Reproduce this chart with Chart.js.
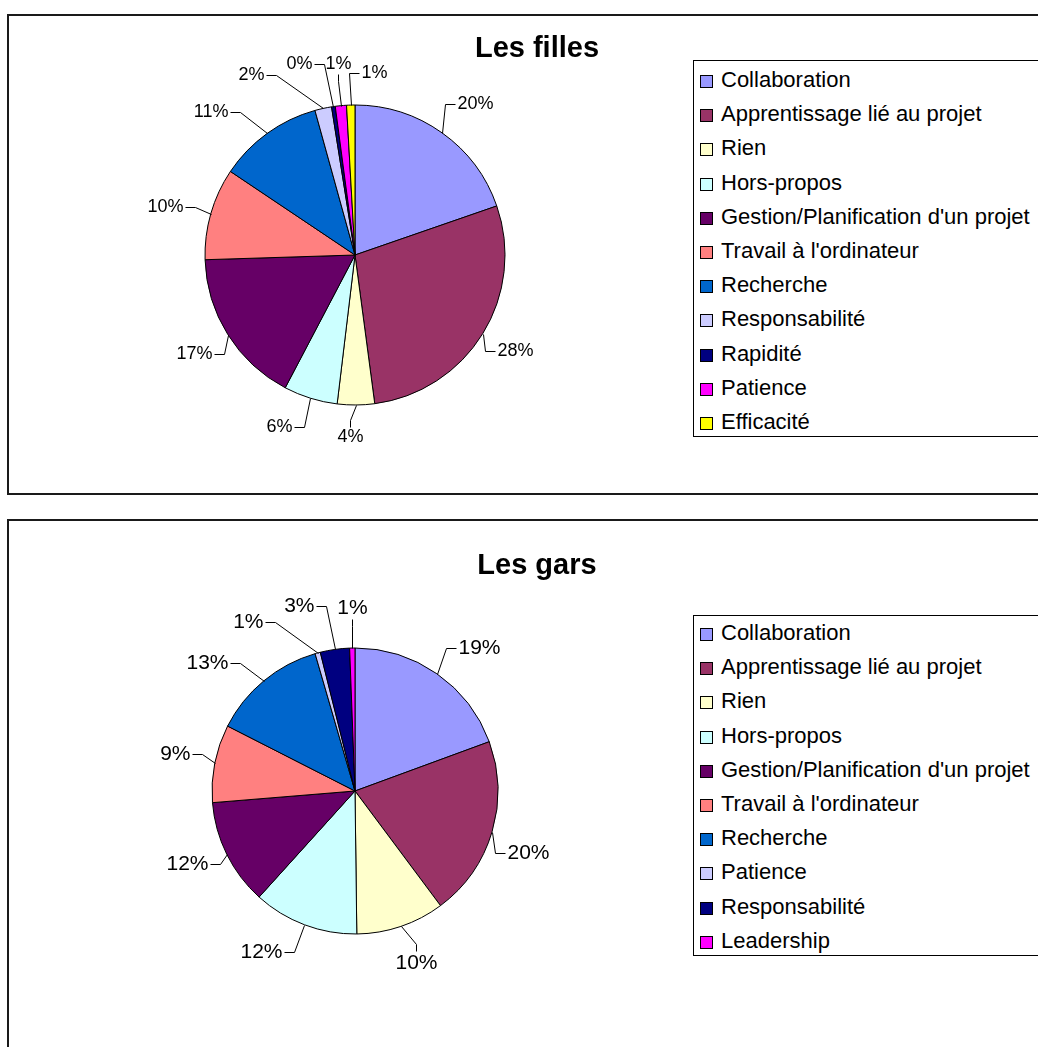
<!DOCTYPE html>
<html lang="fr">
<head>
<meta charset="utf-8">
<title>Réponses selon le genre</title>
<script src="https://cdn.jsdelivr.net/npm/chart.js@4.4.1/dist/chart.umd.min.js"></script>
<style>
    body { margin: 0; background: #fff; width: 1038px; height: 1047px; overflow: hidden; position: relative;
           font-family: Arial, "Liberation Sans", sans-serif; }
    .caption { position: absolute; left: 0; top: -22px; width: 960px; text-align: center; white-space: nowrap;
               font: bold 20px/20px "Liberation Serif", "Times New Roman", serif; }
    .frame { position: absolute; left: 7px; width: 1060px; border: 2px solid #1a1a1a; background: #fff; }
    #frameFilles { top: 14px; height: 477px; }
    #frameGars { top: 519px; height: 560px; }
    .frame canvas { position: absolute; left: 0; top: 0; }
    .title { position: absolute; left: 0; width: 1056px; text-align: center; line-height: 34px;
             font: bold 29px Arial, "Liberation Sans", sans-serif; color: #000; }
    .legend { position: absolute; left: 684px; width: 420px; border: 1px solid #000; background: #fff;
              box-sizing: border-box; }
    .legend div { height: 34.2px; line-height: 34.2px; font-size: 22px; color: #000; white-space: nowrap; }
    .legend span { display: inline-block; width: 11px; height: 11px; border: 1px solid #000;
                   margin: 0 8px 0 6px; vertical-align: -1px; }
</style>
</head>
<body>
<div class="caption">Figure 5. Réponses de tous les participants à la question 3 selon le genre</div>

<div class="frame" id="frameFilles">
    <canvas id="pieFilles" width="680" height="477"></canvas>
    <div class="title" style="top:15px">Les filles</div>
    <div class="legend" id="legendFilles" style="top:44px; height:377px; padding-top:2px"></div>
</div>

<div class="frame" id="frameGars">
    <canvas id="pieGars" width="680" height="526"></canvas>
    <div class="title" style="top:27px">Les gars</div>
    <div class="legend" id="legendGars" style="top:94px; height:341px; padding-top:0"></div>
</div>

<script>
// --- DATA (percent of answers) ---
const categoriesFilles = ['Collaboration', 'Apprentissage lié au projet', 'Rien', 'Hors-propos',
    'Gestion/Planification d\'un projet', 'Travail à l\'ordinateur', 'Recherche', 'Responsabilité',
    'Rapidité', 'Patience', 'Efficacité'];
const valuesFilles = [19.7, 28.2, 4.0, 5.8, 16.8, 9.9, 11.3, 1.8, 0.4, 1.2, 0.9];

const categoriesGars = ['Collaboration', 'Apprentissage lié au projet', 'Rien', 'Hors-propos',
    'Gestion/Planification d\'un projet', 'Travail à l\'ordinateur', 'Recherche', 'Patience',
    'Responsabilité', 'Leadership'];
const valuesGars = [19.4, 20.4, 10.0, 11.9, 12.0, 8.8, 13.0, 0.6, 3.3, 0.6];

// --- COLOURS ---
const colorsFilles = ['#9999FF', '#993366', '#FFFFCC', '#CCFFFF', '#660066', '#FF8080', '#0066CC',
    '#CCCCFF', '#000080', '#FF00FF', '#FFFF00'];
const colorsGars = ['#9999FF', '#993366', '#FFFFCC', '#CCFFFF', '#660066', '#FF8080', '#0066CC',
    '#CCCCFF', '#000080', '#FF00FF'];

// label anchor offsets from the pie centre: [dx, dy, side]
// side: 'l' text right of anchor, 'r' text left of anchor, 't' text above, 'b' text below
const anchorsFilles = [[102, -151, 'l'], [142, 96, 'l'], [-5, 173, 'b'], [-63, 172, 'r'], [-143, 99, 'r'],
    [-172, -48, 'r'], [-127, -143, 'r'], [-91, -180, 'r'], [-43, -191, 'r'], [-17, -182, 't'], [6, -182, 'l']];
const anchorsGars = [[103, -143, 'l'], [152, 62, 'l'], [61, 161, 'b'], [-73, 161, 'r'], [-147, 73, 'r'],
    [-165, -37, 'r'], [-127, -128, 'r'], [-92, -169, 'r'], [-41, -185, 'r'], [-3, -173, 't']];

// --- PERCENT LABELS WITH LEADER LINES ---
const sliceLabels = {
    id: 'sliceLabels',
    afterDatasetsDraw(chart, args, opts) {
        const ctx = chart.ctx;
        const arcs = chart.getDatasetMeta(0).data;
        const values = chart.data.datasets[0].data;
        ctx.save();
        ctx.font = opts.fontSize + 'px Arial, "Liberation Sans", sans-serif';
        ctx.fillStyle = '#000';
        ctx.strokeStyle = '#000';
        ctx.lineWidth = 1;
        arcs.forEach((arc, i) => {
            const p = arc.getProps(['x', 'y', 'startAngle', 'endAngle', 'outerRadius'], true);
            const mid = (p.startAngle + p.endAngle) / 2;
            const sx = Math.round(p.x + Math.cos(mid) * p.outerRadius) + 0.5;
            const sy = Math.round(p.y + Math.sin(mid) * p.outerRadius) + 0.5;
            const [dx, dy, side] = opts.anchors[i];
            const ax = Math.round(p.x + dx) + 0.5;
            const ay = Math.round(p.y + dy) + 0.5;
            const text = Math.round(values[i]) + '%';

            ctx.beginPath();
            ctx.moveTo(sx, sy);
            if (side === 'l') {
                ctx.lineTo(ax - 12, ay);
                ctx.lineTo(ax - 2, ay);
                ctx.textAlign = 'left';
                ctx.textBaseline = 'middle';
            } else if (side === 'r') {
                ctx.lineTo(ax + 12, ay);
                ctx.lineTo(ax + 2, ay);
                ctx.textAlign = 'right';
                ctx.textBaseline = 'middle';
            } else if (side === 't') {
                ctx.lineTo(ax, ay + 8);
                ctx.lineTo(ax, ay + 1);
                ctx.textAlign = 'center';
                ctx.textBaseline = 'bottom';
            } else {
                ctx.lineTo(ax, ay - 8);
                ctx.lineTo(ax, ay - 1);
                ctx.textAlign = 'center';
                ctx.textBaseline = 'top';
            }
            ctx.stroke();
            ctx.fillText(text, ax, ay);
        });
        ctx.restore();
    }
};

function buildPie(canvasId, labels, values, colors, radius, padding, anchors, fontSize) {
    const ctx = document.getElementById(canvasId).getContext('2d');
    return new Chart(ctx, {
        type: 'pie',
        data: {
            labels: labels,
            datasets: [{
                data: values,
                backgroundColor: colors,
                borderColor: '#000',
                borderWidth: 1
            }]
        },
        options: {
            responsive: false,
            animation: false,
            devicePixelRatio: 1,
            radius: radius,
            layout: { padding: padding },
            plugins: {
                legend: { display: false },
                tooltip: { enabled: false },
                sliceLabels: { anchors: anchors, fontSize: fontSize }
            }
        },
        plugins: [sliceLabels]
    });
}

function renderLegend(chart, legendId) {
    const ds = chart.data.datasets[0];
    document.getElementById(legendId).innerHTML = chart.data.labels.map((label, i) => `
        <div><span style="background:${ds.backgroundColor[i]}"></span>${label}</div>
    `).join('');
}

const pieFilles = buildPie('pieFilles', categoriesFilles, valuesFilles, colorsFilles, 150,
    { left: 186, right: 174, top: 79, bottom: 78 }, anchorsFilles, 18);
renderLegend(pieFilles, 'legendFilles');

const pieGars = buildPie('pieGars', categoriesGars, valuesGars, colorsGars, 143,
    { left: 186, right: 174, top: 110, bottom: 96 }, anchorsGars, 21);
renderLegend(pieGars, 'legendGars');
</script>
</body>
</html>
